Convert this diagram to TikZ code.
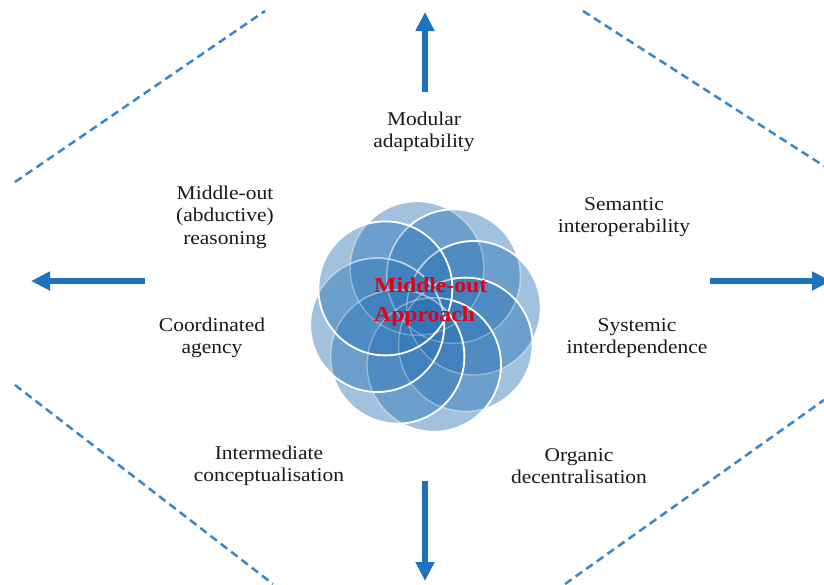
\documentclass[tikz,border=0pt]{standalone}
\usepackage{fontspec}
\setmainfont[FakeStretch=1.1]{Liberation Serif}
\usetikzlibrary{arrows.meta}
\definecolor{arrowblue}{RGB}{31,115,190}
\definecolor{dashblue}{RGB}{55,135,205}
\definecolor{petal}{RGB}{46,117,182}
\definecolor{titlered}{RGB}{225,0,20}
\begin{document}
\begin{tikzpicture}[x=1pt,y=1pt,
  lbl/.style={align=center,font=\fontsize{19.5}{22.5}\selectfont,text=black!90,inner sep=0pt},
  bigarrow/.style={draw=arrowblue,line width=5.5pt,-{Triangle[length=19pt,width=18pt]}},
  border/.style={draw=dashblue,line width=2.5pt,dash pattern=on 8pt off 5pt},
  petal/.style={fill=petal,fill opacity=0.45,draw=white,draw opacity=1,line width=1.8pt},
  faintedge/.style={draw=white,draw opacity=0.3,line width=1.3pt}]
\useasboundingbox (0,0) rectangle (824,-584);
\clip (0,0) rectangle (824,-584);
% dashed frame
\coordinate (tl1) at (15,-182);  \coordinate (tl2) at (265,-11);
\coordinate (tr1) at (583,-11);  \coordinate (tr2) at (824,-166);
\coordinate (bl1) at (15,-385);  \coordinate (bl2) at (273,-584);
\coordinate (br1) at (565,-584); \coordinate (br2) at (824,-400);
\draw[border] (tl1) -- (tl2);
\draw[border] (tr1) -- (tr2);
\draw[border] (bl1) -- (bl2);
\draw[border] (br1) -- (br2);
% arrows
\coordinate (up1) at (425,-92);  \coordinate (up2) at (425,-12);
\coordinate (dn1) at (425,-481); \coordinate (dn2) at (425,-581);
\coordinate (lf1) at (145,-281); \coordinate (lf2) at (31,-281);
\coordinate (rt1) at (710,-281); \coordinate (rt2) at (831,-281);
\draw[bigarrow] (up1) -- (up2);
\draw[bigarrow] (dn1) -- (dn2);
\draw[bigarrow] (lf1) -- (lf2);
\draw[bigarrow] (rt1) -- (rt2);
% flower
\coordinate (fc) at (425.5,-316.5);
\foreach \a in {100,55,10,-35,-80,-125,-170,-215} {
  \path[petal] (fc) ++(\a:49) circle[radius=67];
}
\foreach \a in {100,55,10,-35,-80,-125,-170,-215} {
  \path[faintedge] (fc) ++(\a:49) circle[radius=67];
}
\node[anchor=west,align=left,inner sep=0pt,text=titlered,font=\fontsize{21.5}{29}\selectfont\bfseries] (title) at (374,-302) {Middle-out\\Approach};
% labels
\node[lbl] (modular) at (424,-132) {Modular\\adaptability};
\node[lbl] (reason) at (225,-217) {Middle-out\\(abductive)\\reasoning};
\node[lbl] (semantic) at (624,-217) {Semantic\\interoperability};
\node[lbl] (coord) at (212,-338) {Coordinated\\agency};
\node[lbl] (systemic) at (637,-338) {Systemic\\interdependence};
\node[lbl] (interm) at (269,-466) {Intermediate\\conceptualisation};
\node[lbl] (organic) at (579,-466) {Organic\\decentralisation};
\end{tikzpicture}
\end{document}
